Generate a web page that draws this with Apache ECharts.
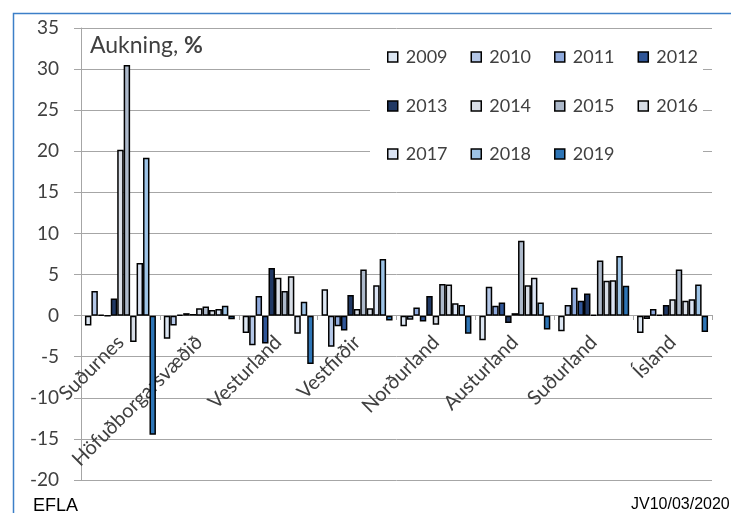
<!DOCTYPE html>
<html>
<head>
<meta charset="utf-8">
<script src="https://cdn.jsdelivr.net/npm/echarts@6/dist/echarts.min.js"></script>
<style>
html,body{margin:0;padding:0;background:#fff;}
#chart{width:731px;height:513px;}
</style>
</head>
<body>
<div id="chart"></div>
<script>
var categories = ['Suðurnes','Höfuðborgarsvæðið','Vesturland','Vestfirðir','Norðurland','Austurland','Suðurland','Ísland'];
var years = ['2009','2010','2011','2012','2013','2014','2015','2016','2017','2018','2019'];
var v2009 = [-1.2, -2.8, -2.1, 3.2, -1.3, -3.0, -1.9, -2.1];
var v2010 = [3.0, -1.2, -3.6, -3.8, -0.5, 3.5, 1.3, -0.4];
var v2011 = [0.1, 0.1, 2.4, -1.3, 1.0, 1.2, 3.4, 0.8];
var v2012 = [0.0, 0.3, -3.4, -1.8, -0.7, 1.6, 1.8, 0.1];
var v2013 = [2.1, 0.2, 5.8, 2.5, 2.4, -0.9, 2.7, 1.3];
var v2014 = [20.2, 0.9, 4.6, 0.8, -1.1, 0.3, 0.1, 2.0];
var v2015 = [30.5, 1.1, 3.0, 5.6, 3.85, 9.1, 6.7, 5.6];
var v2016 = [-3.2, 0.7, 4.8, 0.9, 3.8, 3.7, 4.25, 1.8];
var v2017 = [6.4, 0.8, -2.2, 3.7, 1.5, 4.6, 4.3, 2.0];
var v2018 = [19.2, 1.2, 1.7, 6.9, 1.3, 1.6, 7.25, 3.8];
var v2019 = [-14.5, -0.45, -5.9, -0.6, -2.2, -1.7, 3.65, -2.0];
var seriesValues = [v2009,v2010,v2011,v2012,v2013,v2014,v2015,v2016,v2017,v2018,v2019];
var colors = ['#dce6f2','#b4c7e7','#8faadc','#2f5597','#203864','#d9dee7','#adb9ca','#d6dce5','#dae3f3','#9dc3e6','#2e75b6'];
var yTicks = {min:-20, max:35, interval:5};

var FONT = 'Lato';
var series = years.map(function(y, i){
  return {
    name: y, type: 'bar', data: seriesValues[i],
    barGap: '0%', barCategoryGap: '10%',
    itemStyle: {color: colors[i], borderColor: '#000', borderWidth: 1.5},
    emphasis: {disabled: true}
  };
});

function legendRow(data, top){
  return {
    data: data, top: top, left: 382, orient: 'horizontal',
    itemWidth: 10, itemHeight: 10, itemGap: 23,
    icon: 'rect',
    itemStyle: {borderColor: '#000', borderWidth: 1.5},
    textStyle: {fontFamily: FONT, fontSize: 18, color: '#404040', padding: [0,0,0,3], lineHeight: 20},
    selectedMode: false, z: 5
  };
}

var chart = echarts.init(document.getElementById('chart'));
chart.setOption({
  animation: false,
  backgroundColor: '#fff',
  grid: {left: 81, right: 19, top: 28, bottom: 33, containLabel: false, outerBoundsMode: 'none'},
  legend: [
    legendRow(['2009','2010','2011','2012'], 42),
    legendRow(['2013','2014','2015','2016'], 91),
    legendRow(['2017','2018','2019'], 139)
  ],
  xAxis: {
    type: 'category', data: categories, position: 'bottom', offset: -165,
    axisLine: {onZero: false, lineStyle: {color: '#a6a6a6', width: 1}},
    axisTick: {show: true, length: 5, lineStyle: {color: '#a6a6a6'}},
    axisLabel: {rotate: 45, fontFamily: FONT, fontSize: 20, color: '#404040', margin: 24, interval: 0, hideOverlap: false},
    splitLine: {show: false}
  },
  yAxis: {
    type: 'value', min: yTicks.min, max: yTicks.max, interval: yTicks.interval,
    axisLine: {show: true, lineStyle: {color: '#a6a6a6', width: 1}},
    axisTick: {show: true, length: 7, lineStyle: {color: '#a6a6a6'}},
    axisLabel: {fontFamily: FONT, fontSize: 19, color: '#404040', margin: 22},
    splitLine: {show: true, lineStyle: {color: '#a6a6a6', width: 1}}
  },
  graphic: [
    {type: 'rect', z: 1, shape: {x: 370, y: 31, width: 333, height: 140}, style: {fill: '#fff'}},
    {type: 'rect', z: 10, shape: {x: 13.5, y: 13.5, width: 800, height: 600}, style: {fill: null, stroke: '#3c7fc8', lineWidth: 1.5}},
    {type: 'text', z: 10, left: 90, top: 34, style: {
      text: '{n|Aukning, }{b|%}',
      rich: {n: {fontFamily: FONT, fontSize: 23, fill: '#404040'}, b: {fontFamily: FONT, fontSize: 23, fontWeight: 'bold', fill: '#404040'}}
    }},
    {type: 'text', z: 10, left: 33, top: 497, style: {text: 'EFLA', font: '18px "Liberation Sans", Arial', fill: '#000'}},
    {type: 'text', z: 10, left: 631, top: 497, style: {text: 'JV10/03/2020', font: '16px "Liberation Sans", Arial', fill: '#000'}}
  ],
  series: series
});
</script>
</body>
</html>
